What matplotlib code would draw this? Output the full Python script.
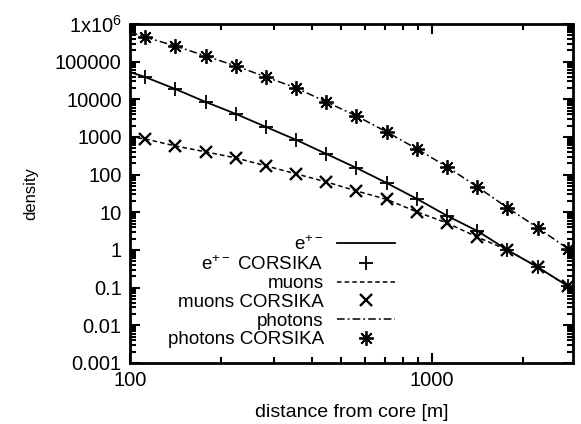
import numpy as np
import matplotlib
matplotlib.use("Agg")
import matplotlib.pyplot as plt
from matplotlib.ticker import LogLocator, FixedLocator, FixedFormatter, NullFormatter

plt.rcParams["font.family"] = ["Liberation Sans", "DejaVu Sans"]
plt.rcParams["mathtext.fontset"] = "custom"
plt.rcParams["mathtext.rm"] = "Liberation Sans"
plt.rcParams["mathtext.it"] = "Liberation Sans"

# distance from shower core [m] where CORSIKA densities were sampled
r_pts = [112, 141, 178, 224, 282, 355, 447, 562, 708, 891, 1122, 1413, 1778, 2239, 2818]
# same grid plus the ends of the plotted range, for the model curves
r_line = [100] + r_pts + [2930]

# CORSIKA densities
ele_corsika = [39300, 18900, 8520, 4100, 1850, 838, 355, 151, 60, 22.8, 8.1, 3.2, 1.0, 0.35, 0.11]
muon_corsika = [891, 581, 403, 279, 171, 105, 64, 37, 22, 10.3, 5.2, 2.2, 1.0, 0.35, 0.11]
phot_corsika = [452000, 261000, 142000, 77000, 39300, 20000, 8500, 3630, 1360, 483, 161, 47.5, 13.2, 3.9, 1.08]

# model densities
ele_model = [53000] + ele_corsika + [0.087]
muon_model = [1000] + muon_corsika + [0.087]
phot_model = [610000] + phot_corsika + [0.9]

y_ticks = [1e-3, 1e-2, 1e-1, 1, 10, 100, 1e3, 1e4, 1e5, 1e6]
y_labels = ["0.001", "0.01", "0.1", "1", "10", "100", "1000", "10000", "100000", "1x10$^{6}$"]
x_ticks = [100, 1000]
x_labels = ["100", "1000"]

fig = plt.figure(figsize=(5.81, 4.24), dpi=100)
ax = fig.add_axes([0.2238, 0.1439, 0.7624, 0.7995])

star = (8, 2, 0)
ax.plot(r_line, ele_model, "-", color="black", lw=1.3, label="e$^{+-}$")
ax.plot(r_pts, ele_corsika, ls="none", marker="+", ms=10, mew=1.3, color="black", label="e$^{+-}$ CORSIKA")
ax.plot(r_line, muon_model, ls=(0, (3, 2)), color="black", lw=1.1, label="muons")
ax.plot(r_pts, muon_corsika, ls="none", marker="x", ms=8, mew=1.7, color="black", label="muons CORSIKA")
ax.plot(r_line, phot_model, ls=(0, (5, 2, 1.2, 2)), color="black", lw=1.1, label="photons")
ax.plot(r_pts, phot_corsika, ls="none", marker=star, ms=10.5, mew=1.3, color="black", label="photons CORSIKA")

ax.set_xscale("log")
ax.set_yscale("log")
ax.set_xlim(100, 2930)
ax.set_ylim(1e-3, 1e6)

ax.yaxis.set_major_locator(FixedLocator(y_ticks))
ax.yaxis.set_major_formatter(FixedFormatter(y_labels))
ax.yaxis.set_minor_locator(LogLocator(base=10, subs=np.arange(2, 10), numticks=20))
ax.yaxis.set_minor_formatter(NullFormatter())
ax.xaxis.set_major_locator(FixedLocator(x_ticks))
ax.xaxis.set_major_formatter(FixedFormatter(x_labels))
ax.xaxis.set_minor_locator(LogLocator(base=10, subs=np.arange(2, 10), numticks=20))
ax.xaxis.set_minor_formatter(NullFormatter())

ax.tick_params(which="both", direction="in", top=True, right=True, width=1.5, labelsize=14.5)
ax.tick_params(which="major", length=7, pad=6)
ax.tick_params(which="minor", length=4)
for s in ax.spines.values():
    s.set_linewidth(2)

ax.set_xlabel("distance from core [m]", fontsize=14, labelpad=10)
ax.set_ylabel("density", fontsize=12, labelpad=12)

leg = ax.legend(loc="upper right", bbox_to_anchor=(0.598, 0.378), frameon=False,
                markerfirst=False, fontsize=13.5, handlelength=3.1, handletextpad=0.7,
                labelspacing=0.08, borderpad=0, borderaxespad=0)

fig.savefig("out.png", dpi=100)
